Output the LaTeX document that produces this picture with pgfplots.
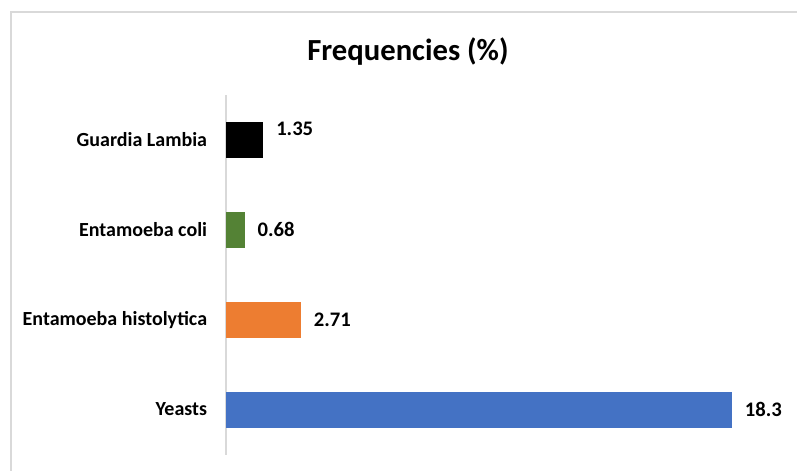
\documentclass[border=0pt]{standalone}
\usepackage{fontspec}
\setmainfont{Carlito}
\usepackage{pgfplots}
\pgfplotsset{compat=1.18}
\definecolor{cblue}{HTML}{4472C4}
\definecolor{corange}{HTML}{ED7D31}
\definecolor{cgreen}{HTML}{548235}
\definecolor{cgrid}{HTML}{D9D9D9}
\begin{document}
\begin{tikzpicture}
\path[use as bounding box] (0,0) rectangle (597.75pt,-353.25pt);
\begin{scope}
\clip (0,0) rectangle (597.75pt,-353.25pt);
\draw[cgrid, line width=0.9pt] (8.25pt,-9pt) rectangle (620pt,-380pt);
\end{scope}
\node[font=\fontsize{23}{27}\selectfont\bfseries] at (306pt,-38.5pt) {Frequencies (\%)};
\begin{axis}[
  at={(169.5pt,-340.875pt)}, anchor=south west,
  scale only axis, width=414.75pt, height=269.625pt,
  xmin=0, xmax=20, ymin=-0.5, ymax=3.5,
  xbar, bar width=27pt, bar shift=0pt,
  axis x line=none, axis y line*=left,
  y axis line style={draw=cgrid, line width=0.9pt},
  ytick={0,1,2,3},
  yticklabels={Yeasts, Entamoeba histolytica, {Entamoeba coli\ }, Guardia Lambia},
  major tick length=0pt,
  yticklabel style={font=\fontsize{15}{18}\selectfont\bfseries, inner sep=0pt, anchor=east, xshift=-14pt},
  /pgf/number format/assume math mode=true,
  nodes near coords,
  nodes near coords align={horizontal},
  every node near coord/.append style={font=\fontsize{15.5}{18}\selectfont\bfseries, anchor=west, inner sep=0pt, xshift=9.5pt, text=black},
]
\addplot[fill=cblue, draw=none, bar shift=0pt] coordinates {(18.3,0)};
\addplot[fill=corange, draw=none, bar shift=0pt] coordinates {(2.71,1)};
\addplot[fill=cgreen, draw=none, bar shift=0pt] coordinates {(0.68,2)};
\addplot[fill=black, draw=none, bar shift=0pt, every node near coord/.append style={yshift=8pt}] coordinates {(1.35,3)};
\end{axis}
\end{tikzpicture}
\end{document}
